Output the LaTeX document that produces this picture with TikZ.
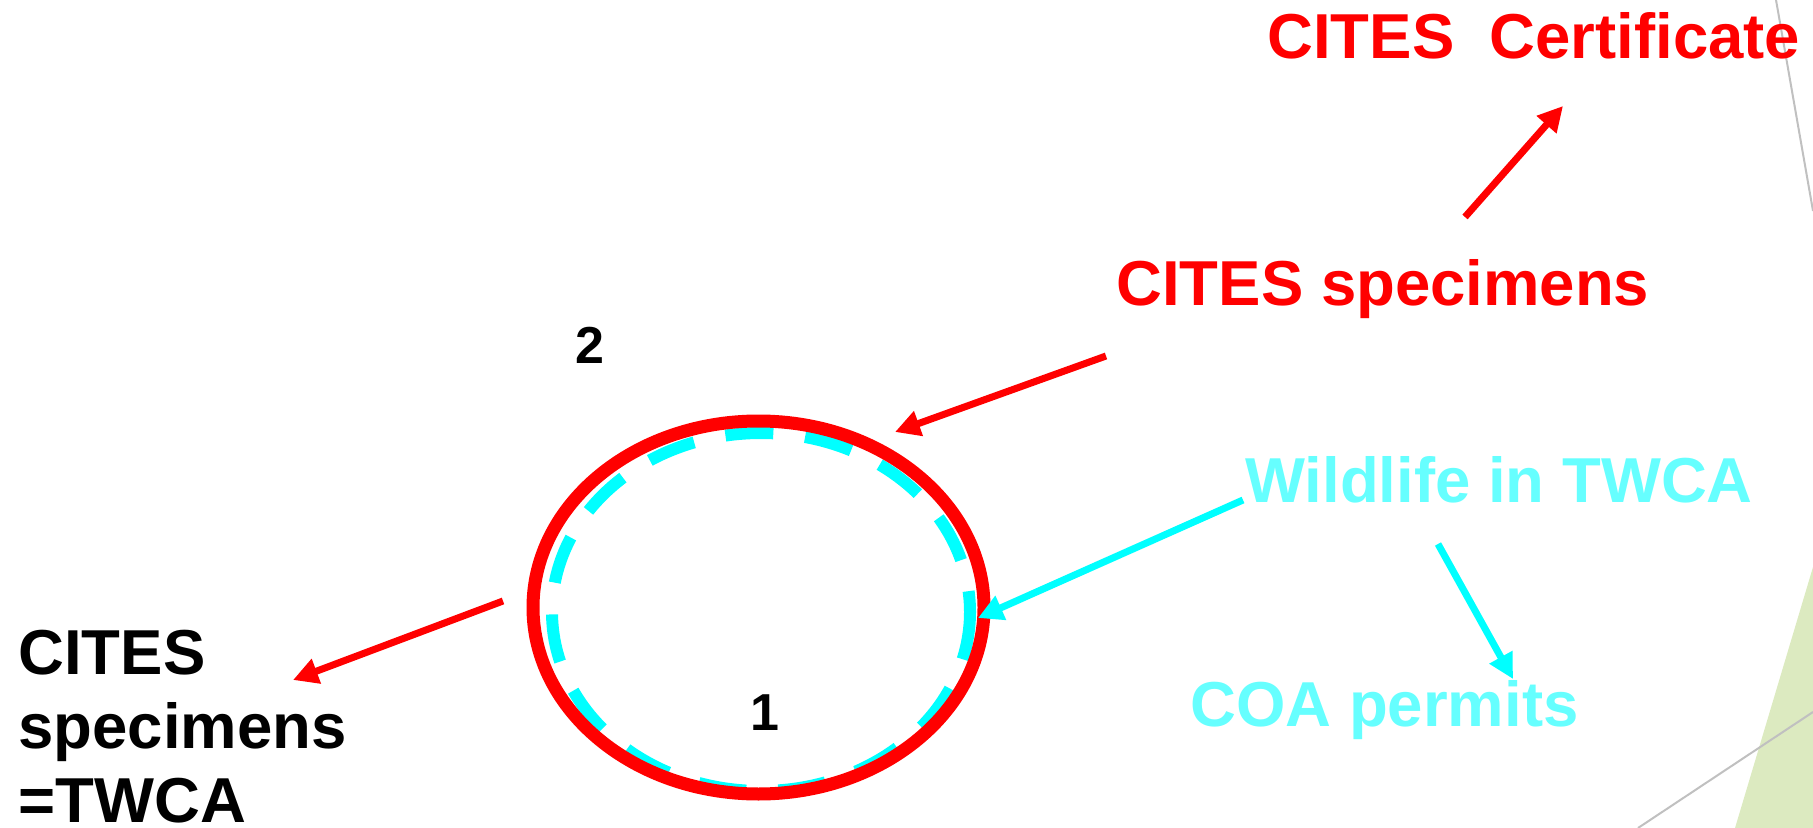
\documentclass[tikz,border=0pt]{standalone}
\usepackage{fontspec}
\setmainfont{Liberation Sans}
\usetikzlibrary{arrows.meta}
\definecolor{pptred}{HTML}{FF0000}
\definecolor{pptcyan}{HTML}{00FFFF}
\definecolor{palecyan}{HTML}{66FFFF}
\definecolor{leafgreen}{HTML}{DCEAC0}
\definecolor{edgegrey}{HTML}{C0C0C0}
\tikzset{
  bigtext/.style={anchor=base west, inner sep=0pt, font=\fontsize{31.75}{37}\selectfont\bfseries},
  digit/.style={inner sep=0pt, font=\fontsize{26}{30}\selectfont\bfseries},
  redarrow/.style={draw=pptred, line width=3.5pt, -{Triangle[length=12.5pt,width=12.5pt]}},
  cyanarrow/.style={draw=pptcyan, line width=3.5pt, -{Triangle[length=12.5pt,width=12.5pt]}}
}
\begin{document}
\begin{tikzpicture}[x=0.5pt,y=-0.5pt]
  \useasboundingbox (0,0) rectangle (1813,828);
  % slide corner
  \fill[leafgreen] (1735,828) -- (1813,567) -- (1813,828) -- cycle;
  \draw[edgegrey, line width=1pt] (1776,0) -- (1813,211);
  \draw[edgegrey, line width=1pt] (1638,828) -- (1813,712);
  % rings
  \draw[pptcyan, line width=6pt, dash pattern=on 24pt off 16pt] (761,612) ellipse [x radius=209, y radius=179];
  \draw[pptred, line width=6.5pt] (758.5,607.5) ellipse [x radius=225.5, y radius=186.5];
  % texts
  \node[bigtext, text=pptred] (cert) at (1267,59) {CITES\ \ Certificate};
  \node[bigtext, text=pptred] (spec) at (1116,306) {CITES specimens};
  \node[bigtext, text=palecyan] (wild) at (1245,502) {Wildlife in TWCA};
  \node[bigtext, text=palecyan] (coa) at (1190,726) {COA permits};
  \node[bigtext, align=left] (same) at (18,822) {CITES\\specimens\\=TWCA};
  \node[digit] (two) at (590,345) {2};
  \node[digit] (one) at (765,713) {1};
  % arrow ends
  \coordinate (certfoot) at (1465,217);
  \coordinate (certtip) at (1563,106);
  \coordinate (specfoot) at (1106,356);
  \coordinate (spectip) at (895,432);
  \coordinate (samefoot) at (503,601);
  \coordinate (sametip) at (293,680);
  \coordinate (wildfoot) at (1243,500);
  \coordinate (wildtip) at (978,618);
  \coordinate (coafoot) at (1438,544);
  \coordinate (coatip) at (1513,679);
  \draw[redarrow] (certfoot) -- (certtip);
  \draw[redarrow] (specfoot) -- (spectip);
  \draw[redarrow] (samefoot) -- (sametip);
  \draw[cyanarrow] (wildfoot) -- (wildtip);
  \draw[cyanarrow] (coafoot) -- (coatip);
\end{tikzpicture}
\end{document}
